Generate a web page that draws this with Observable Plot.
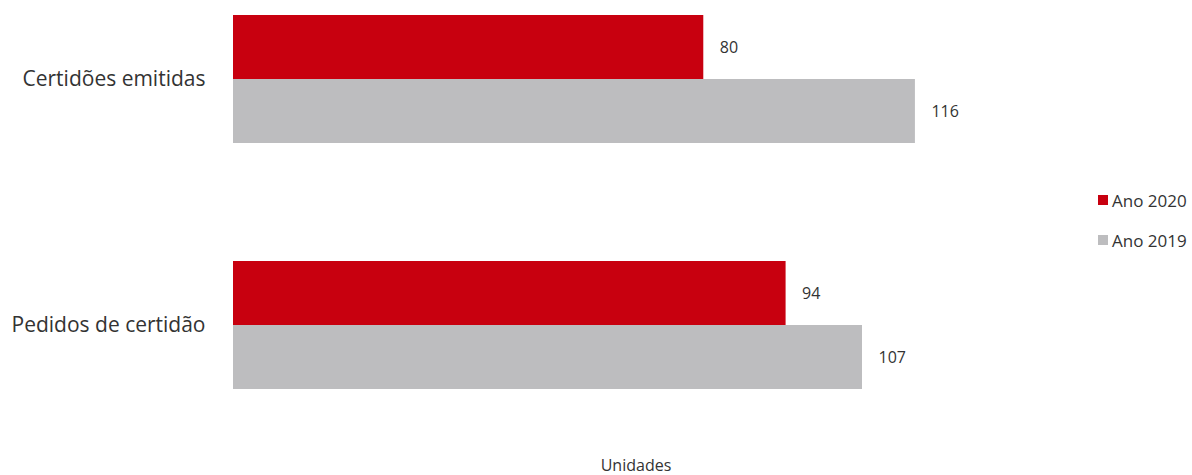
<!DOCTYPE html>
<html>
<head>
<meta charset="utf-8">
<script src="https://cdn.jsdelivr.net/npm/d3@7"></script>
<script src="https://cdn.jsdelivr.net/npm/@observablehq/plot@0.6"></script>
<style>
  body { margin: 0; background: #fff; font-family: "Open Sans", sans-serif; }
  #wrap { position: relative; width: 1192px; height: 475px; }
  #legend { position: absolute; left: 1098px; top: 189px; font-size: 17px; color: #333; }
  .item { display: flex; align-items: center; height: 22px; margin-bottom: 18px; }
  .sw { width: 10px; height: 10px; margin-right: 4px; }
  #caption { position: absolute; left: 0; width: 1192px; top: 454px; font-size: 16px; color: #333; }
  #caption span { position: absolute; left: 636px; transform: translateX(-50%); white-space: nowrap; }
</style>
</head>
<body>
<div id="wrap">
  <div id="chart"></div>
  <div id="legend"></div>
  <div id="caption"><span id="xlabel"></span></div>
</div>
<script>
const categories = ["Certidões emitidas", "Pedidos de certidão"];
const series = ["Ano 2020", "Ano 2019"];
const values2020 = [80, 94];
const values2019 = [116, 107];
const colors = ["#c8000f", "#bdbdbf"];
const xLabel = "Unidades";

const data = [];
categories.forEach((c, i) => {
  data.push({category: c, series: series[0], value: values2020[i]});
  data.push({category: c, series: series[1], value: values2019[i]});
});

const chart = Plot.plot({
  width: 1192,
  height: 440,
  marginLeft: 233,
  marginRight: 136,
  marginTop: 14,
  marginBottom: 51,
  style: {fontFamily: "'Open Sans', sans-serif", color: "#333", background: "#fff"},
  x: {domain: [0, 140], axis: null},
  y: {domain: series, axis: null, padding: 0},
  fy: {domain: categories, paddingInner: 0.48, paddingOuter: 0, label: null},
  color: {domain: series, range: colors},
  marks: [
    Plot.barX(data, {x: "value", y: "series", fy: "category", fill: "series"}),
    Plot.text(data, {x: "value", y: "series", fy: "category", text: d => String(d.value),
      textAnchor: "start", dx: 16, fontSize: 16, fill: "#333"}),
    Plot.axisFy({anchor: "left", tickSize: 0, tickPadding: 28, fontSize: 21, label: null, fill: "#333"})
  ]
});
document.getElementById("chart").appendChild(chart);

const legend = document.getElementById("legend");
series.forEach((s, i) => {
  const it = document.createElement("div");
  it.className = "item";
  const sw = document.createElement("div");
  sw.className = "sw";
  sw.style.background = colors[i];
  const t = document.createElement("span");
  t.textContent = s;
  it.appendChild(sw); it.appendChild(t);
  legend.appendChild(it);
});
document.getElementById("xlabel").textContent = xLabel;
</script>
</body>
</html>
